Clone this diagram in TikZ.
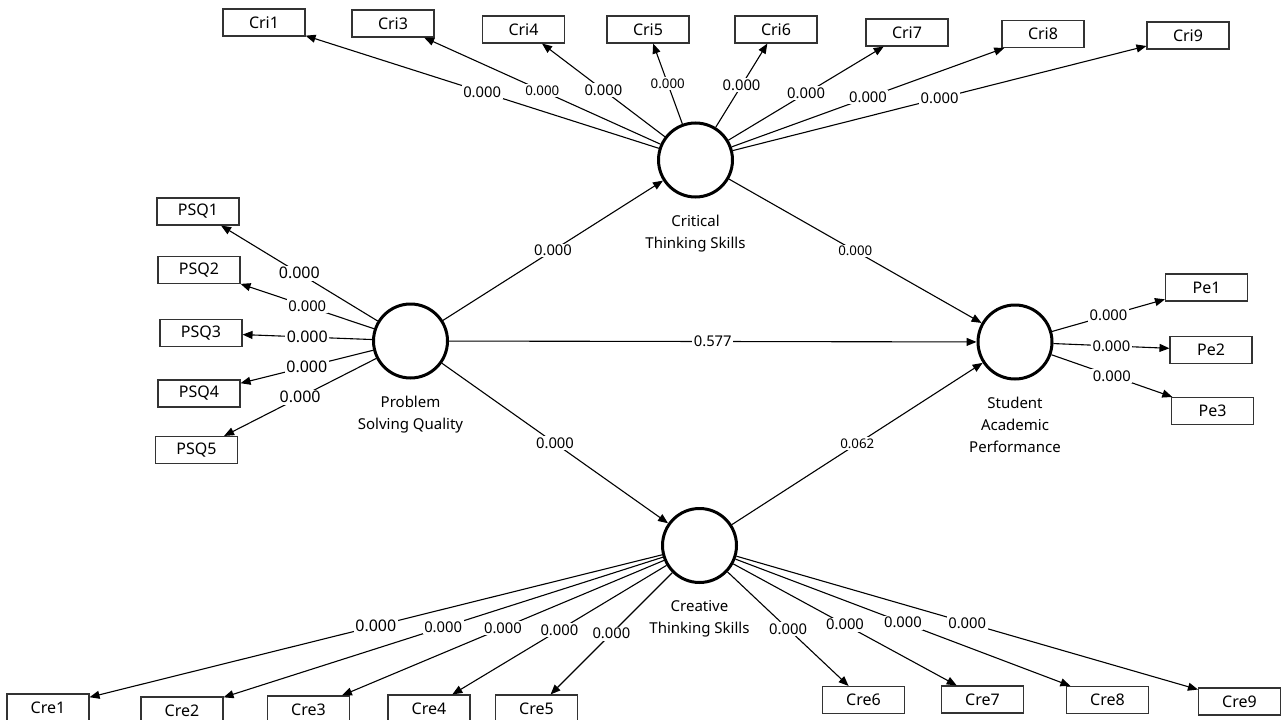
\documentclass[tikz,border=0pt]{standalone}
\usepackage{fontspec}
\setmainfont{Noto Sans}
\usetikzlibrary{arrows.meta}
\begin{document}
\begin{tikzpicture}[x=1pt,y=-1pt,
  lat/.style={circle,draw=black,line width=3pt,minimum size=74pt,inner sep=0pt},
  ind/.style={rectangle,draw=black!80,line width=1.1pt,minimum width=82pt,minimum height=27pt,inner sep=0pt,font=\fontsize{16}{18}\selectfont},
  conn/.style={line width=1.1pt,-{Triangle[length=10pt,width=8pt]}},
  lab/.style={fill=white,inner sep=1.5pt,font=\fontsize{14.8}{16}\selectfont},
  slab/.style={fill=white,inner sep=1.5pt,font=\fontsize{13.3}{15}\selectfont},
  blab/.style={fill=white,inner sep=1.5pt,font=\fontsize{16}{18}\selectfont},
  lvname/.style={anchor=north,align=center,font=\fontsize{15}{22}\selectfont,inner sep=0pt}
]
\useasboundingbox (0,0) rectangle (1283,720);

% latent variables
\node[lat] (cts) at (695.5,160) {};
\node[lat] (psq) at (410.5,341) {};
\node[lat] (sap) at (1015,342) {};
\node[lat] (cre) at (699.5,545.5) {};

\node[lvname] (ctsn) at (695.5,215) {Critical\\Thinking Skills};
\node[lvname] (psqn) at (410.5,396) {Problem\\Solving Quality};
\node[lvname] (sapn) at (1015,397) {Student\\Academic\\Performance};
\node[lvname] (cren) at (699.5,600.5) {Creative\\Thinking Skills};

% indicators
\node[ind] (cri1) at (264,22.5) {Cri1};
\node[ind] (cri3) at (393,23.5) {Cri3};
\node[ind] (cri4) at (523.5,29.5) {Cri4};
\node[ind] (cri5) at (648,29.5) {Cri5};
\node[ind] (cri6) at (776,29.5) {Cri6};
\node[ind] (cri7) at (907,32.5) {Cri7};
\node[ind] (cri8) at (1043,34) {Cri8};
\node[ind] (cri9) at (1188,35.5) {Cri9};

\node[ind] (psq1) at (198,211.5) {PSQ1};
\node[ind] (psq2) at (199,270) {PSQ2};
\node[ind] (psq3) at (201,333) {PSQ3};
\node[ind] (psq4) at (199,393.5) {PSQ4};
\node[ind] (psq5) at (196.5,450) {PSQ5};

\node[ind] (pe1) at (1206.5,287.5) {Pe1};
\node[ind] (pe2) at (1211,350) {Pe2};
\node[ind] (pe3) at (1212.5,411) {Pe3};

\node[ind] (cre1) at (48,707.5) {Cre1};
\node[ind] (cre2) at (182,710.5) {Cre2};
\node[ind] (cre3) at (308.5,709.5) {Cre3};
\node[ind] (cre4) at (429,708.5) {Cre4};
\node[ind] (cre5) at (536.5,708.5) {Cre5};
\node[ind] (cre6) at (863.5,700) {Cre6};
\node[ind] (cre7) at (982.5,699.5) {Cre7};
\node[ind] (cre8) at (1107.5,700) {Cre8};
\node[ind] (cre9) at (1239.5,701.5) {Cre9};

% structural paths
\draw[conn] (psq) -- node[lab] {0.000} (cts);
\draw[conn] (psq) -- node[lab] {0.577} (sap);
\draw[conn] (cts) -- node[slab] {0.000} (sap);
\draw[conn] (psq) -- node[lab] {0.000} (cre);
\draw[conn] (cre) -- node[slab] {0.062} (sap);

% Critical thinking loadings
\draw[conn] (cts) -- node[lab] {0.000} (cri1);
\draw[conn] (cts) -- node[slab] {0.000} (cri3);
\draw[conn] (cts) -- node[lab] {0.000} (cri4);
\draw[conn] (cts) -- node[slab] {0.000} (cri5);
\draw[conn] (cts) -- node[lab] {0.000} (cri6);
\draw[conn] (cts) -- node[lab] {0.000} (cri7);
\draw[conn] (cts) -- node[lab] {0.000} (cri8);
\draw[conn] (cts) -- node[lab] {0.000} (cri9);

% PSQ loadings
\draw[conn] (psq) -- node[blab] {0.000} (psq1);
\draw[conn] (psq) -- node[lab] {0.000} (psq2);
\draw[conn] (psq) -- node[blab] {0.000} (psq3);
\draw[conn] (psq) -- node[blab] {0.000} (psq4);
\draw[conn] (psq) -- node[blab] {0.000} (psq5);

% SAP loadings
\draw[conn] (sap) -- node[lab] {0.000} (pe1);
\draw[conn] (sap) -- node[lab] {0.000} (pe2);
\draw[conn] (sap) -- node[lab] {0.000} (pe3);

% Creative loadings
\draw[conn] (cre) -- node[blab] {0.000} (cre1);
\draw[conn] (cre) -- node[lab] {0.000} (cre2);
\draw[conn] (cre) -- node[lab] {0.000} (cre3);
\draw[conn] (cre) -- node[lab] {0.000} (cre4);
\draw[conn] (cre) -- node[lab] {0.000} (cre5);
\draw[conn] (cre) -- node[lab] {0.000} (cre6);
\draw[conn] (cre) -- node[lab] {0.000} (cre7);
\draw[conn] (cre) -- node[lab] {0.000} (cre8);
\draw[conn] (cre) -- node[lab] {0.000} (cre9);
\end{tikzpicture}
\end{document}
